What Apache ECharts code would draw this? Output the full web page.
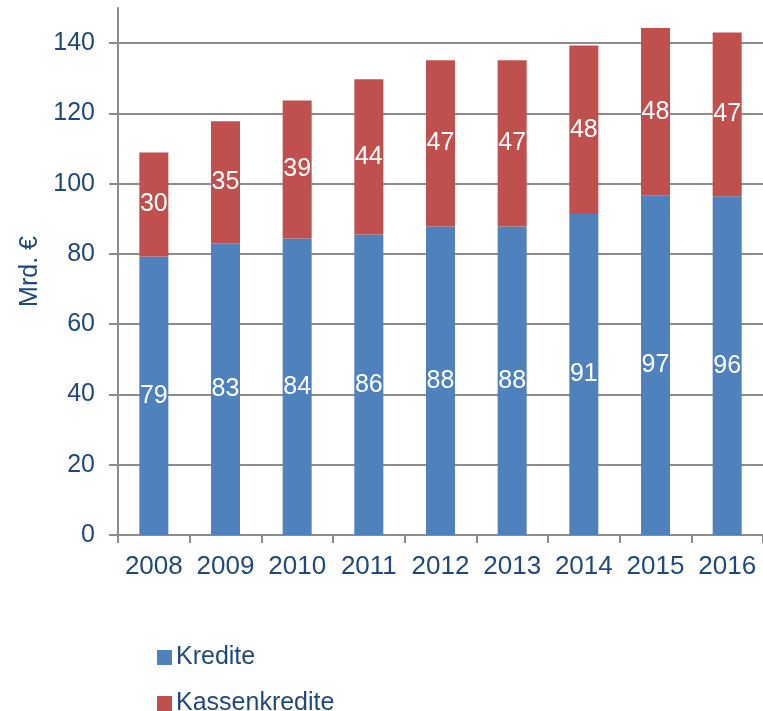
<!DOCTYPE html>
<html><head><meta charset="utf-8">
<script src="https://cdn.jsdelivr.net/npm/echarts@6/dist/echarts.min.js"></script>
<style>html,body{margin:0;padding:0;background:#fff}#c{width:763px;height:711px}</style>
</head><body><div id="c"></div>
<script>
const categories = ['2008','2009','2010','2011','2012','2013','2014','2015','2016'];
const kredite = [79.3, 83.0, 84.4, 85.5, 87.8, 87.8, 91.4, 96.7, 96.4];
const kassenkredite = [29.6, 34.8, 39.3, 44.2, 47.3, 47.3, 47.9, 47.6, 46.6];
const seriesNames = ['Kredite', 'Kassenkredite'];
const yTicks = [0, 20, 40, 60, 80, 100, 120, 140];

const textColor = '#1F497D';
const font = 'Liberation Sans, Arial, sans-serif';
const chart = echarts.init(document.getElementById('c'));
const lbl = {show:true, position:'inside', color:'#fff', fontSize:25, fontFamily:font,
  formatter: p => Math.round(p.value)};
const legendBase = {orient:'horizontal', left:152, itemWidth:15, itemHeight:15,
    icon:'rect', textStyle:{color:textColor, fontSize:25, fontFamily:font, padding:[0,0,0,-1]}};
chart.setOption({
  animation:false,
  grid:{left:118, right:0, top:8, bottom:176, containLabel:false},
  legend:[
    Object.assign({}, legendBase, {top:640, data:[seriesNames[0]]}),
    Object.assign({}, legendBase, {top:686, data:[seriesNames[1]]})
  ],
  xAxis:{type:'category', data:categories,
    axisLine:{lineStyle:{color:'#8c8c8c', width:2}},
    axisTick:{show:true, length:8, interval:0, alignWithLabel:false, lineStyle:{color:'#8c8c8c', width:2}},
    axisLabel:{color:textColor, fontSize:26, fontFamily:font, margin:19, interval:0, hideOverlap:false}},
  yAxis:{type:'value', min:0, max:150, interval:20,
    name:'Mrd. €', nameLocation:'middle', nameGap:75, nameRotate:90,
    nameTextStyle:{color:textColor, fontSize:25, fontFamily:font},
    axisLine:{show:true, lineStyle:{color:'#8c8c8c', width:2}},
    axisTick:{show:true, length:9, lineStyle:{color:'#8c8c8c', width:2}},
    axisLabel:{color:textColor, fontSize:25, fontFamily:font, margin:23, showMaxLabel:false,
      formatter: v => yTicks.includes(v) ? String(v) : ''},
    splitLine:{show:true, showMaxLine:false, lineStyle:{color:'#8c8c8c', width:2}}},
  series:[
    {name:seriesNames[0], type:'bar', stack:'a', data:kredite, barWidth:29,
      itemStyle:{color:'#4F81BD'}, label:lbl},
    {name:seriesNames[1], type:'bar', stack:'a', data:kassenkredite, barWidth:29,
      itemStyle:{color:'#C0504D'}, label:lbl}
  ]
});
</script></body></html>
